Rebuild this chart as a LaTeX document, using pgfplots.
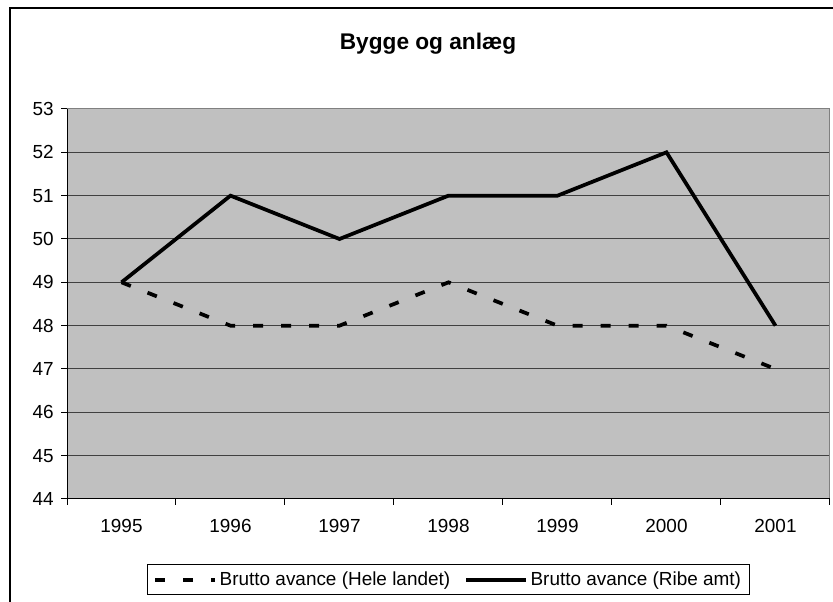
\documentclass[border=0pt]{standalone}
\usepackage{fontspec}
\setmainfont{Liberation Sans}
\usepackage{pgfplots}
\pgfplotsset{compat=1.18}
\definecolor{plotbg}{HTML}{C0C0C0}
\begin{document}
\begin{tikzpicture}
\useasboundingbox (0,0) rectangle (624.75pt,451.5pt);
\draw[line width=0.9pt] (7.5pt,-1pt) -- (7.5pt,445.5pt) -- (626pt,445.5pt);
\node[anchor=base, font=\fontsize{17}{20}\selectfont\bfseries] at (321pt,414pt) {Bygge og anlæg};
\begin{axis}[
 at={(50.25pt,77.25pt)}, anchor=south west, scale only axis,
 width=572.25pt, height=292.5pt,
 xmin=-0.5, xmax=6.5, ymin=44, ymax=53,
 xtick={0,1,2,3,4,5,6},
 xticklabels={1995,1996,1997,1998,1999,2000,2001},
 minor xtick={-0.5,0.5,1.5,2.5,3.5,4.5,5.5,6.5},
 ytick={44,45,46,47,48,49,50,51,52,53},
 tick pos=left, tick align=outside,
 major tick length=4.5pt, minor tick length=4.5pt,
 major x tick style={draw=none},
 tick style={black, line width=0.75pt},
 ymajorgrids, grid style={black!75, line width=0.75pt},
 axis background/.style={fill=plotbg},
 axis line style={draw=black!50, line width=0.75pt},
 tick label style={font=\fontsize{14.2}{16}\selectfont},
 yticklabel style={xshift=-2pt},
 xticklabel style={yshift=-7pt},
 /pgf/number format/assume math mode=true,
 legend columns=2,
 legend style={at={(axis description cs:0.1055,-0.1667)}, anchor=north west,
   draw=black, line width=0.75pt, fill=white,
   font=\fontsize{14.2}{16}\selectfont, inner xsep=4pt, inner ysep=3.5pt,
   /tikz/every even column/.append style={column sep=8.5pt}},
 legend cell align=left,
 legend image code/.code={\draw[#1] (0pt,0pt) -- (45pt,0pt);},
]
\addplot[black, line width=2.8pt, dash pattern=on 7.5pt off 13.5pt] coordinates {(0,49)(1,48)(2,48)(3,49)(4,48)(5,48)(6,47)};
\addlegendentry{Brutto avance (Hele landet)}
\addplot[black, line width=2.8pt] coordinates {(0,49)(1,51)(2,50)(3,51)(4,51)(5,52)(6,48)};
\addlegendentry{Brutto avance (Ribe amt)}
\draw[black, line width=0.75pt] (rel axis cs:0,1) -- (rel axis cs:0,0) -- (rel axis cs:1,0);
\end{axis}
\end{tikzpicture}
\end{document}
